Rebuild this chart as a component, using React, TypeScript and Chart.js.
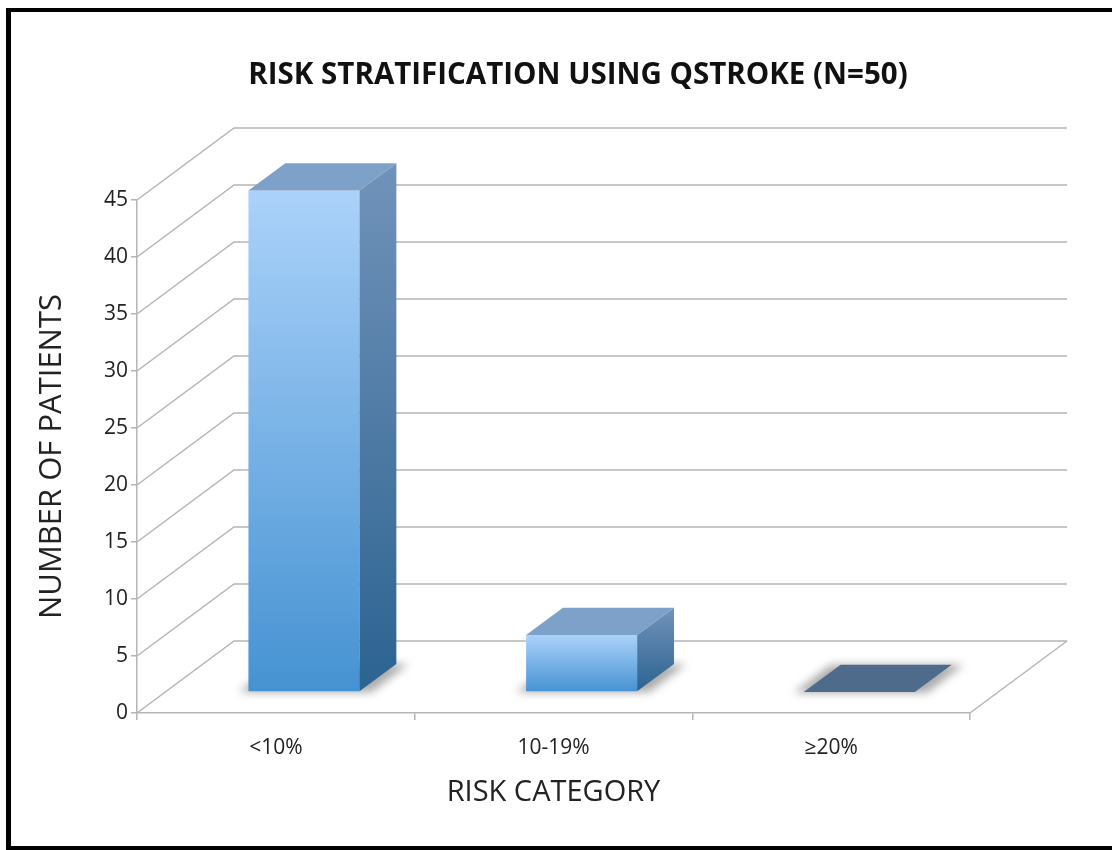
import React, { useEffect, useRef } from 'react';
import { Chart, registerables } from 'chart.js';

Chart.register(...registerables);

// ---- data ----
const categories = ['<10%', '10-19%', '≥20%'];
const patients = [44, 5, 0];
const yMin = 0;
const yMax = 45;
const yStep = 5;
const chartTitle = 'RISK STRATIFICATION USING QSTROKE (N=50)';
const xTitle = 'RISK CATEGORY';
const yTitle = 'NUMBER OF PATIENTS';

// ---- styling / 3D geometry ----
const DX = 97;
const DY = -72;
const BAR_FRONT = 0.29;
const BAR_DEPTH = 0.38;
const GRID = '#b5b5b5';
const TEXT = '#222222';
const FONT = "'Open Sans', 'Liberation Sans', sans-serif";

const threeD = {
  id: 'threeD',
  beforeDraw(chart: any) {
    const { ctx, width, height } = chart;
    ctx.save();
    ctx.fillStyle = '#ffffff';
    ctx.fillRect(0, 0, width, height);
    ctx.fillStyle = '#000000';
    ctx.fillRect(6, 8, width - 6, 4);
    ctx.fillRect(6, 8, 5, height - 8);
    ctx.fillRect(6, height - 4, width - 6, 4);
    ctx.restore();
  },
  beforeDatasetsDraw(chart: any) {
    const { ctx, chartArea, scales } = chart;
    const { left, right, bottom } = chartArea;
    const y = scales.y;
    ctx.save();
    ctx.strokeStyle = GRID;
    ctx.lineWidth = 1.5;
    y.ticks.forEach((t: any) => {
      const py = y.getPixelForValue(t.value);
      ctx.beginPath();
      ctx.moveTo(left, py);
      ctx.lineTo(left + DX, py + DY);
      ctx.lineTo(right + DX, py + DY);
      ctx.stroke();
    });
    ctx.beginPath();
    ctx.moveTo(right, bottom);
    ctx.lineTo(right + DX, bottom + DY);
    ctx.stroke();
    ctx.restore();

    // shift bars into the middle of the depth
    ctx.save();
    ctx.translate(BAR_FRONT * DX, BAR_FRONT * DY);
    const meta = chart.getDatasetMeta(0);
    const bdx = BAR_DEPTH * DX;
    const bdy = BAR_DEPTH * DY;
    ctx.save();
    ctx.filter = 'blur(4px)';
    ctx.fillStyle = 'rgba(70,70,70,0.45)';
    meta.data.forEach((el: any) => {
      const { x: cx, base, width: w } = el.getProps(['x', 'base', 'width'], true);
      const x0 = cx - w / 2 - 10;
      const x1 = cx + w / 2 + 12;
      ctx.beginPath();
      ctx.moveTo(x0, base + 1);
      ctx.lineTo(x1, base + 1);
      ctx.lineTo(x1 + bdx, base + bdy);
      ctx.lineTo(x0 + bdx, base + bdy);
      ctx.closePath();
      ctx.fill();
    });
    ctx.restore();
  },
  afterDatasetsDraw(chart: any) {
    const { ctx } = chart;
    const meta = chart.getDatasetMeta(0);
    const bdx = BAR_DEPTH * DX;
    const bdy = BAR_DEPTH * DY;
    meta.data.forEach((el: any) => {
      const { x: cx, y: top, base, width: w } = el.getProps(['x', 'y', 'base', 'width'], true);
      const x0 = cx - w / 2;
      const x1 = cx + w / 2;
      const flat = Math.abs(base - top) < 1;
      if (!flat) {
        const g = ctx.createLinearGradient(0, top + bdy, 0, base);
        g.addColorStop(0, '#7193ba');
        g.addColorStop(1, '#2c6391');
        ctx.fillStyle = g;
        ctx.beginPath();
        ctx.moveTo(x1, top);
        ctx.lineTo(x1 + bdx, top + bdy);
        ctx.lineTo(x1 + bdx, base + bdy);
        ctx.lineTo(x1, base);
        ctx.closePath();
        ctx.fill();
      }
      ctx.fillStyle = flat ? '#4f6b8c' : '#7ea1ca';
      ctx.beginPath();
      ctx.moveTo(x0, top);
      ctx.lineTo(x1, top);
      ctx.lineTo(x1 + bdx, top + bdy);
      ctx.lineTo(x0 + bdx, top + bdy);
      ctx.closePath();
      ctx.fill();
    });
    ctx.restore(); // undo translate from beforeDatasetsDraw
  },
};

export default function App() {
  const ref = useRef<HTMLCanvasElement>(null);

  useEffect(() => {
    if (!ref.current) return;
    const chart = new Chart(ref.current, {
      type: 'bar',
      data: {
        labels: categories,
        datasets: [
          {
            data: patients,
            clip: false,
            borderWidth: 0,
            barPercentage: 0.4,
            categoryPercentage: 1.0,
            backgroundColor: (c: any) => {
              const ys = c.chart.scales && c.chart.scales.y;
              if (!ys || typeof c.raw !== 'number') return '#6aaae6';
              const t = ys.getPixelForValue(c.raw);
              const b = ys.getPixelForValue(0);
              if (!isFinite(t) || !isFinite(b)) return '#6aaae6';
              if (Math.abs(b - t) < 1) return '#4f6b8c';
              const g = c.chart.ctx.createLinearGradient(0, t, 0, b);
              g.addColorStop(0, '#abd2fa');
              g.addColorStop(1, '#4592d2');
              return g;
            },
          } as any,
        ],
      },
      options: {
        responsive: false,
        animation: false,
        layout: { padding: { top: 12, left: 44, right: 0, bottom: 0 } },
        plugins: {
          legend: { display: false },
          tooltip: { enabled: false },
          title: {
            display: true,
            text: chartTitle,
            color: '#111',
            font: { family: FONT, size: 29.5, weight: 'bold', lineHeight: 1.2 },
            padding: { top: 46.3, bottom: 106.3 },
          },
        },
        scales: {
          x: {
            type: 'category',
            grid: {
              display: true,
              drawOnChartArea: false,
              drawTicks: true,
              tickLength: 7,
              color: GRID,
              lineWidth: 1.5,
              offset: true,
            },
            border: { display: true, color: GRID, width: 1.5 },
            ticks: { font: { family: FONT, size: 21 }, color: TEXT, padding: 15.4 },
            title: {
              display: true,
              text: xTitle,
              color: TEXT,
              font: { family: FONT, size: 29, lineHeight: 1.2 },
              padding: { top: 0, bottom: 39.6 },
            },
            afterFit: (s: any) => {
              s.height = 137;
            },
          },
          y: {
            type: 'linear',
            min: yMin,
            max: yMax,
            ticks: { stepSize: yStep, font: { family: FONT, size: 21 }, color: TEXT, padding: 3 },
            grid: {
              display: true,
              drawOnChartArea: false,
              drawTicks: true,
              tickLength: 6,
              color: GRID,
              lineWidth: 1.5,
            },
            border: { display: true, color: GRID, width: 1.5 },
            title: {
              display: true,
              text: yTitle,
              color: TEXT,
              font: { family: FONT, size: 31, lineHeight: 1 },
              padding: { top: -7.5, bottom: 0 },
            },
            afterFit: (s: any) => {
              s.width = 93;
            },
          },
          y2: {
            type: 'linear',
            position: 'right',
            display: true,
            grid: { display: false },
            border: { display: false },
            ticks: { display: false },
            afterFit: (s: any) => {
              s.width = 142;
            },
          },
        },
      } as any,
      plugins: [threeD],
    });
    return () => chart.destroy();
  }, []);

  return (
    <div style={{ position: 'absolute', left: 0, top: 0, width: 1112, height: 850, background: '#fff' }}>
      <canvas ref={ref} width={1112} height={850} style={{ display: 'block' }} />
    </div>
  );
}
